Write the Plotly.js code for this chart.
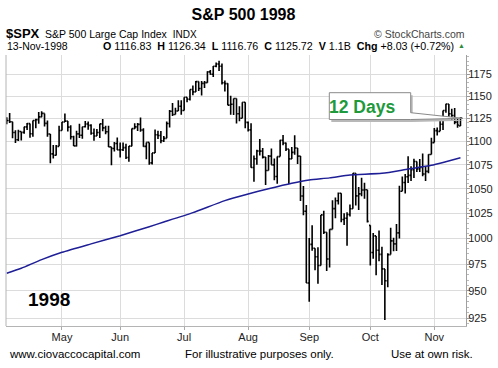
<!DOCTYPE html>
<html>
<head>
<meta charset="utf-8">
<script src="https://cdn.plot.ly/plotly-3.0.1.min.js"></script>
<style>
html,body{margin:0;padding:0;background:#fff;}
#chart{width:498px;height:368px;}
</style>
</head>
<body>
<div id="chart"></div>
<script>
// ---- Data ----
const dates = [
 '1998-04-03','1998-04-06','1998-04-07','1998-04-08','1998-04-09','1998-04-13','1998-04-14','1998-04-15','1998-04-16','1998-04-17','1998-04-20','1998-04-21','1998-04-22','1998-04-23','1998-04-24','1998-04-27','1998-04-28','1998-04-29','1998-04-30',
 '1998-05-01','1998-05-04','1998-05-05','1998-05-06','1998-05-07','1998-05-08','1998-05-11','1998-05-12','1998-05-13','1998-05-14','1998-05-15','1998-05-18','1998-05-19','1998-05-20','1998-05-21','1998-05-22','1998-05-26','1998-05-27','1998-05-28','1998-05-29',
 '1998-06-01','1998-06-02','1998-06-03','1998-06-04','1998-06-05','1998-06-08','1998-06-09','1998-06-10','1998-06-11','1998-06-12','1998-06-15','1998-06-16','1998-06-17','1998-06-18','1998-06-19','1998-06-22','1998-06-23','1998-06-24','1998-06-25','1998-06-26','1998-06-29','1998-06-30',
 '1998-07-01','1998-07-02','1998-07-06','1998-07-07','1998-07-08','1998-07-09','1998-07-10','1998-07-13','1998-07-14','1998-07-15','1998-07-16','1998-07-17','1998-07-20','1998-07-21','1998-07-22','1998-07-23','1998-07-24','1998-07-27','1998-07-28','1998-07-29','1998-07-30','1998-07-31',
 '1998-08-03','1998-08-04','1998-08-05','1998-08-06','1998-08-07','1998-08-10','1998-08-11','1998-08-12','1998-08-13','1998-08-14','1998-08-17','1998-08-18','1998-08-19','1998-08-20','1998-08-21','1998-08-24','1998-08-25','1998-08-26','1998-08-27','1998-08-28','1998-08-31',
 '1998-09-01','1998-09-02','1998-09-03','1998-09-04','1998-09-08','1998-09-09','1998-09-10','1998-09-11','1998-09-14','1998-09-15','1998-09-16','1998-09-17','1998-09-18','1998-09-21','1998-09-22','1998-09-23','1998-09-24','1998-09-25','1998-09-28','1998-09-29','1998-09-30',
 '1998-10-01','1998-10-02','1998-10-05','1998-10-06','1998-10-07','1998-10-08','1998-10-09','1998-10-12','1998-10-13','1998-10-14','1998-10-15','1998-10-16','1998-10-19','1998-10-20','1998-10-21','1998-10-22','1998-10-23','1998-10-26','1998-10-27','1998-10-28','1998-10-29','1998-10-30',
 '1998-11-02','1998-11-03','1998-11-04','1998-11-05','1998-11-06','1998-11-09','1998-11-10','1998-11-11','1998-11-12','1998-11-13'
];
const openVals = [
 1120.01,1122.70,1121.38,1109.55,1101.65,1110.67,1109.69,1115.75,1119.32,1108.17,1122.72,1123.65,1126.67,1130.54,1119.58,1107.90,1086.54,1085.11,1094.63,
 1111.75,1121.00,1122.07,1115.50,1104.92,1095.14,1108.14,1106.64,1115.79,1118.86,1117.37,1108.73,1105.82,1109.52,1119.06,1114.64,1110.47,1094.02,1092.23,1097.60,
 1090.82,1090.98,1093.22,1082.73,1094.83,1113.86,1115.72,1118.41,1112.28,1094.58,1098.84,1077.01,1087.59,1107.11,1106.37,1100.65,1103.21,1119.49,1132.88,1129.28,1133.20,1138.49,
 1133.84,1148.56,1146.42,1157.33,1154.66,1166.38,1158.56,1164.33,1165.19,1177.58,1174.81,1183.99,1186.75,1184.10,1165.07,1164.08,1139.75,1140.80,1147.27,1130.24,1125.21,1142.95,
 1120.67,1112.44,1072.12,1081.43,1089.63,1089.45,1083.14,1068.98,1084.22,1074.91,1062.75,1083.67,1101.20,1098.06,1091.60,1081.24,1088.14,1092.85,1084.19,1042.59,1027.14,
 957.28,994.26,990.47,982.26,973.89,1023.46,1006.20,980.19,1009.06,1029.72,1037.68,1045.48,1018.87,1020.09,1023.89,1029.63,1066.09,1042.72,1044.75,1048.69,1049.02,
 1013.00,986.39,1002.60,988.56,984.59,970.68,959.44,984.39,997.71,994.80,1005.53,1047.49,1056.42,1062.39,1063.93,1069.92,1078.48,1070.67,1072.32,1065.34,1068.09,1085.93,
 1098.67,1111.60,1110.84,1118.67,1133.85,1141.01,1130.20,1128.26,1120.97,1116.83
];
const highVals = [
 1126.36,1131.00,1121.38,1111.92,1112.71,1110.67,1115.96,1119.90,1119.32,1122.72,1124.59,1132.00,1132.98,1130.54,1122.81,1107.90,1095.94,1096.00,1116.97,
 1121.02,1130.52,1122.07,1117.42,1106.08,1111.42,1119.13,1115.96,1122.22,1121.59,1118.66,1113.89,1113.31,1119.08,1124.37,1116.89,1116.86,1094.02,1099.41,1104.15,
 1098.70,1098.71,1097.43,1095.03,1113.88,1119.73,1119.92,1126.00,1114.19,1098.84,1098.84,1087.59,1112.87,1111.40,1111.24,1105.87,1121.56,1134.40,1142.04,1136.83,1145.15,1145.16,
 1148.56,1148.56,1157.33,1161.82,1167.03,1166.38,1166.94,1166.99,1178.16,1179.61,1184.22,1188.50,1190.50,1187.38,1167.67,1164.35,1150.31,1147.27,1147.27,1138.56,1143.07,1142.97,
 1121.71,1119.73,1084.80,1090.96,1102.54,1092.82,1083.14,1085.43,1092.19,1081.54,1083.67,1101.72,1106.75,1098.79,1091.60,1093.82,1106.64,1092.85,1084.19,1052.87,1033.47,
 1000.60,1013.19,990.47,991.41,1023.46,1027.72,1006.20,1009.06,1038.38,1041.13,1046.07,1045.48,1025.20,1026.02,1033.89,1066.09,1066.11,1051.89,1061.46,1056.31,1049.02,
 1013.00,1005.45,1002.60,1007.85,991.87,970.68,985.69,1010.71,1000.79,1014.42,1053.09,1062.65,1065.21,1084.06,1073.56,1081.34,1078.48,1081.24,1087.08,1072.79,1086.16,1103.78,
 1114.44,1115.03,1127.18,1133.88,1141.30,1141.01,1135.76,1136.48,1124.47,1126.34
];
const lowVals = [
 1118.48,1119.97,1103.44,1098.34,1100.50,1100.97,1108.27,1112.24,1103.98,1104.95,1114.33,1119.01,1126.29,1116.24,1104.91,1076.70,1081.57,1084.96,1094.63,
 1111.75,1121.00,1110.58,1101.88,1094.93,1094.53,1103.72,1102.78,1114.93,1112.52,1107.05,1100.76,1105.82,1103.52,1111.04,1107.64,1094.01,1074.39,1089.06,1090.82,
 1082.62,1089.67,1081.09,1078.18,1094.83,1113.31,1111.31,1110.27,1094.28,1080.82,1075.00,1075.18,1087.58,1102.41,1097.98,1099.35,1103.21,1115.10,1127.60,1129.28,1133.20,1129.11,
 1133.84,1142.99,1145.03,1150.74,1154.66,1155.61,1150.49,1159.10,1165.19,1174.30,1171.74,1183.02,1178.50,1163.01,1155.20,1139.63,1129.11,1128.92,1119.43,1121.98,1125.21,1114.30,
 1110.62,1071.82,1057.35,1074.94,1084.72,1081.76,1054.00,1068.98,1074.91,1058.78,1055.08,1083.67,1095.83,1089.55,1054.92,1081.24,1085.53,1075.91,1037.61,1023.04,957.28,
 939.98,987.99,969.32,956.51,973.89,1004.56,968.64,972.00,1009.06,1020.09,1033.88,1016.05,1013.45,993.00,1021.96,1029.63,1033.04,1028.49,1042.23,1039.71,1015.73,
 974.00,980.45,964.72,977.93,955.35,923.32,953.31,984.39,987.55,987.80,1000.12,1047.49,1045.14,1055.94,1058.10,1061.15,1067.30,1067.42,1063.05,1057.98,1066.09,1085.93,
 1098.67,1106.43,1110.84,1112.27,1131.30,1123.76,1122.80,1118.57,1114.67,1116.76
];
const closeVals = [
 1122.70,1121.38,1109.55,1101.65,1110.67,1109.69,1115.75,1119.32,1108.17,1122.72,1123.65,1126.67,1130.54,1119.58,1107.90,1086.54,1085.11,1094.63,1111.75,
 1121.00,1122.07,1115.50,1104.92,1095.14,1108.14,1106.64,1115.79,1118.86,1117.37,1108.73,1105.82,1109.52,1119.06,1114.64,1110.47,1094.02,1092.23,1097.60,1090.82,
 1090.98,1093.22,1082.73,1094.83,1113.86,1115.72,1118.41,1112.28,1094.58,1098.84,1077.01,1087.59,1107.11,1106.37,1100.65,1103.21,1119.49,1132.88,1129.28,1133.20,1138.49,1133.84,
 1148.56,1146.42,1157.33,1154.66,1166.38,1158.56,1164.33,1165.19,1177.58,1174.81,1183.99,1186.75,1184.10,1165.07,1164.08,1139.75,1140.80,1147.27,1130.24,1125.21,1142.95,1120.67,
 1112.44,1072.12,1081.43,1089.63,1089.45,1083.14,1068.98,1084.22,1074.91,1062.75,1083.67,1101.20,1098.06,1091.60,1081.24,1088.14,1092.85,1084.19,1042.59,1027.14,957.28,
 994.26,990.47,982.26,973.89,1023.46,1006.20,980.19,1009.06,1029.72,1037.68,1045.48,1018.87,1020.09,1023.89,1029.63,1066.09,1042.72,1044.75,1048.69,1049.02,1017.01,
 986.39,1002.60,988.56,984.59,970.68,959.44,984.39,997.71,994.80,1005.53,1047.49,1056.42,1062.39,1063.93,1069.92,1078.48,1070.67,1072.32,1065.34,1068.09,1085.93,1098.67,
 1111.60,1110.84,1118.67,1133.85,1141.01,1130.20,1128.26,1120.97,1117.69,1125.72
];
// 200-day moving average
const maDates = ['1998-04-03','1998-04-13','1998-04-22','1998-05-01','1998-05-15','1998-06-01','1998-06-15','1998-06-22','1998-07-07','1998-07-22','1998-08-03','1998-08-12','1998-08-24','1998-09-01','1998-09-11','1998-09-22','1998-10-07','1998-10-20','1998-10-30','1998-11-05','1998-11-13'];
const maValues = [966.5,971.3,979.5,986.6,994.8,1002.8,1011.7,1016.3,1025.7,1037.9,1044.7,1050.1,1055.8,1059.2,1061.3,1064.4,1066.0,1070.5,1074.5,1077.5,1082.5];
// axis ticks
const monthTickDates = ['1998-05-01','1998-06-01','1998-07-01','1998-08-03','1998-09-01','1998-10-01','1998-11-02'];
const monthTickLabels = ['May','Jun','Jul','Aug','Sep','Oct','Nov'];
const priceTicks = [925,950,975,1000,1025,1050,1075,1100,1125,1150,1175];

// ---- Layout helpers (pixel -> paper) ----
const L = 6, R = 466, T = 55, B = 326;
const PX = x => (x - L) / (R - L);
const PY = y => (B - y) / (B - T);

const minorTicks = [];
for (let v = 920; v <= 1195; v += 5) if (v % 25 !== 0) minorTicks.push(v);

const FONT = 'Arial, "Liberation Sans", sans-serif';

const traces = [
  {
    type: 'ohlc', x: dates, open: openVals, high: highVals, low: lowVals, close: closeVals,
    increasing: {line: {color: '#000000', width: 1.6}},
    decreasing: {line: {color: '#000000', width: 1.6}},
    tickwidth: 0.45, hoverinfo: 'skip', showlegend: false
  },
  {
    type: 'scatter', mode: 'lines', x: maDates, y: maValues,
    line: {color: '#1e1e96', width: 1.5, shape: 'spline', smoothing: 0.6},
    hoverinfo: 'skip', showlegend: false
  }
];

function ann(text, x, y, xanchor, size, color, extra) {
  return Object.assign({
    text: text, xref: 'paper', yref: 'paper', x: PX(x), y: PY(y),
    xanchor: xanchor, yanchor: 'middle', showarrow: false,
    font: {family: FONT, size: size, color: color}
  }, extra || {});
}

const calloutPath = (dx, dy) => {
  const pts = [[329.3,92.7],[410.7,92.7],[410.7,112.7],[463,118.3],[410.7,119.5],[329.3,119.5]];
  return 'M ' + pts.map(p => PX(p[0] + dx).toFixed(5) + ',' + PY(p[1] + dy).toFixed(5)).join(' L ') + ' Z';
};

const layout = {
  width: 498, height: 368,
  margin: {l: L, r: 498 - R, t: T, b: 368 - B, pad: 0},
  paper_bgcolor: '#ffffff', plot_bgcolor: '#ffffff',
  showlegend: false, hovermode: false,
  title: {
    text: 'S&P 500 1998', x: 243.5 / 498, xref: 'container', xanchor: 'center',
    y: 1 - 14.5 / 368, yref: 'container', yanchor: 'middle',
    font: {family: FONT, size: 16, color: '#000', weight: 'bold'}
  },
  xaxis: {
    type: 'category', range: [-0.25, 157.9],
    tickmode: 'array', tickvals: monthTickDates, ticktext: monthTickLabels,
    showgrid: true, gridcolor: '#dcdcdc', gridwidth: 1,
    ticks: 'outside', ticklen: 3, tickcolor: '#aaaaaa', ticklabelstandoff: -2,
    showline: true, linecolor: '#b4b4b4', linewidth: 1, mirror: false,
    tickfont: {family: FONT, size: 11, color: '#222'},
    rangeslider: {visible: false}, fixedrange: true, zeroline: false
  },
  yaxis: {
    type: 'log', side: 'right', range: [Math.log10(917.8), Math.log10(1197.2)],
    tickmode: 'array', tickvals: priceTicks, ticktext: priceTicks.map(String),
    showgrid: true, gridcolor: '#dcdcdc', gridwidth: 1,
    ticks: 'outside', ticklen: 3, tickcolor: '#999999', ticklabelstandoff: -4,
    minor: {tickmode: 'array', tickvals: minorTicks, ticks: 'outside', ticklen: 2, tickcolor: '#bbbbbb', showgrid: false},
    showline: true, linecolor: '#a0a0a0', linewidth: 1,
    tickfont: {family: FONT, size: 11, color: '#222'},
    fixedrange: true, zeroline: false
  },
  shapes: [
    {type: 'line', xref: 'paper', yref: 'paper', x0: 0, x1: 0, y0: 0, y1: 1, line: {color: '#b4b4b4', width: 1}},
    {type: 'path', xref: 'paper', yref: 'paper', path: calloutPath(2, 2.5), fillcolor: '#b8b8b8', line: {width: 0}},
    {type: 'path', xref: 'paper', yref: 'paper', path: calloutPath(0, 0), fillcolor: '#ffffff', line: {color: '#8a8a8a', width: 1}}
  ],
  annotations: [
    ann('<b>$SPX</b>', 3.5, 33.2, 'left', 13, '#000'),
    ann('S&P 500 Large Cap Index  <span style="font-size:10px">INDX</span>', 43, 33.6, 'left', 10.5, '#000'),
    ann('© StockCharts.com', 466.5, 33.6, 'right', 10.5, '#444'),
    ann('13-Nov-1998', 5, 45.8, 'left', 10.5, '#000'),
    ann('<b>O</b> 1116.83  <b>H</b> 1126.34  <b>L</b> 1116.76  <b>C</b> 1125.72  <b>V</b> 1.1B  <b>Chg</b> +8.03 (+0.72%)', 455.5, 45.8, 'right', 10.7, '#000'),
    ann('▲', 461.5, 45.8, 'center', 7, '#2e8b3a'),
    ann('<b>12 Days</b>', 362.3, 106.5, 'center', 17.5, '#1e9a3c'),
    ann('<b>1998</b>', 49, 299, 'center', 19, '#000'),
    ann('www.ciovaccocapital.com', 7, 353.5, 'left', 11.5, '#000'),
    ann('For illustrative purposes only.', 182.5, 353.5, 'left', 11.5, '#000'),
    ann('Use at own risk.', 475.5, 353.5, 'right', 11.5, '#000')
  ]
};

Plotly.newPlot('chart', traces, layout, {staticPlot: true, displayModeBar: false});
</script>
</body>
</html>
